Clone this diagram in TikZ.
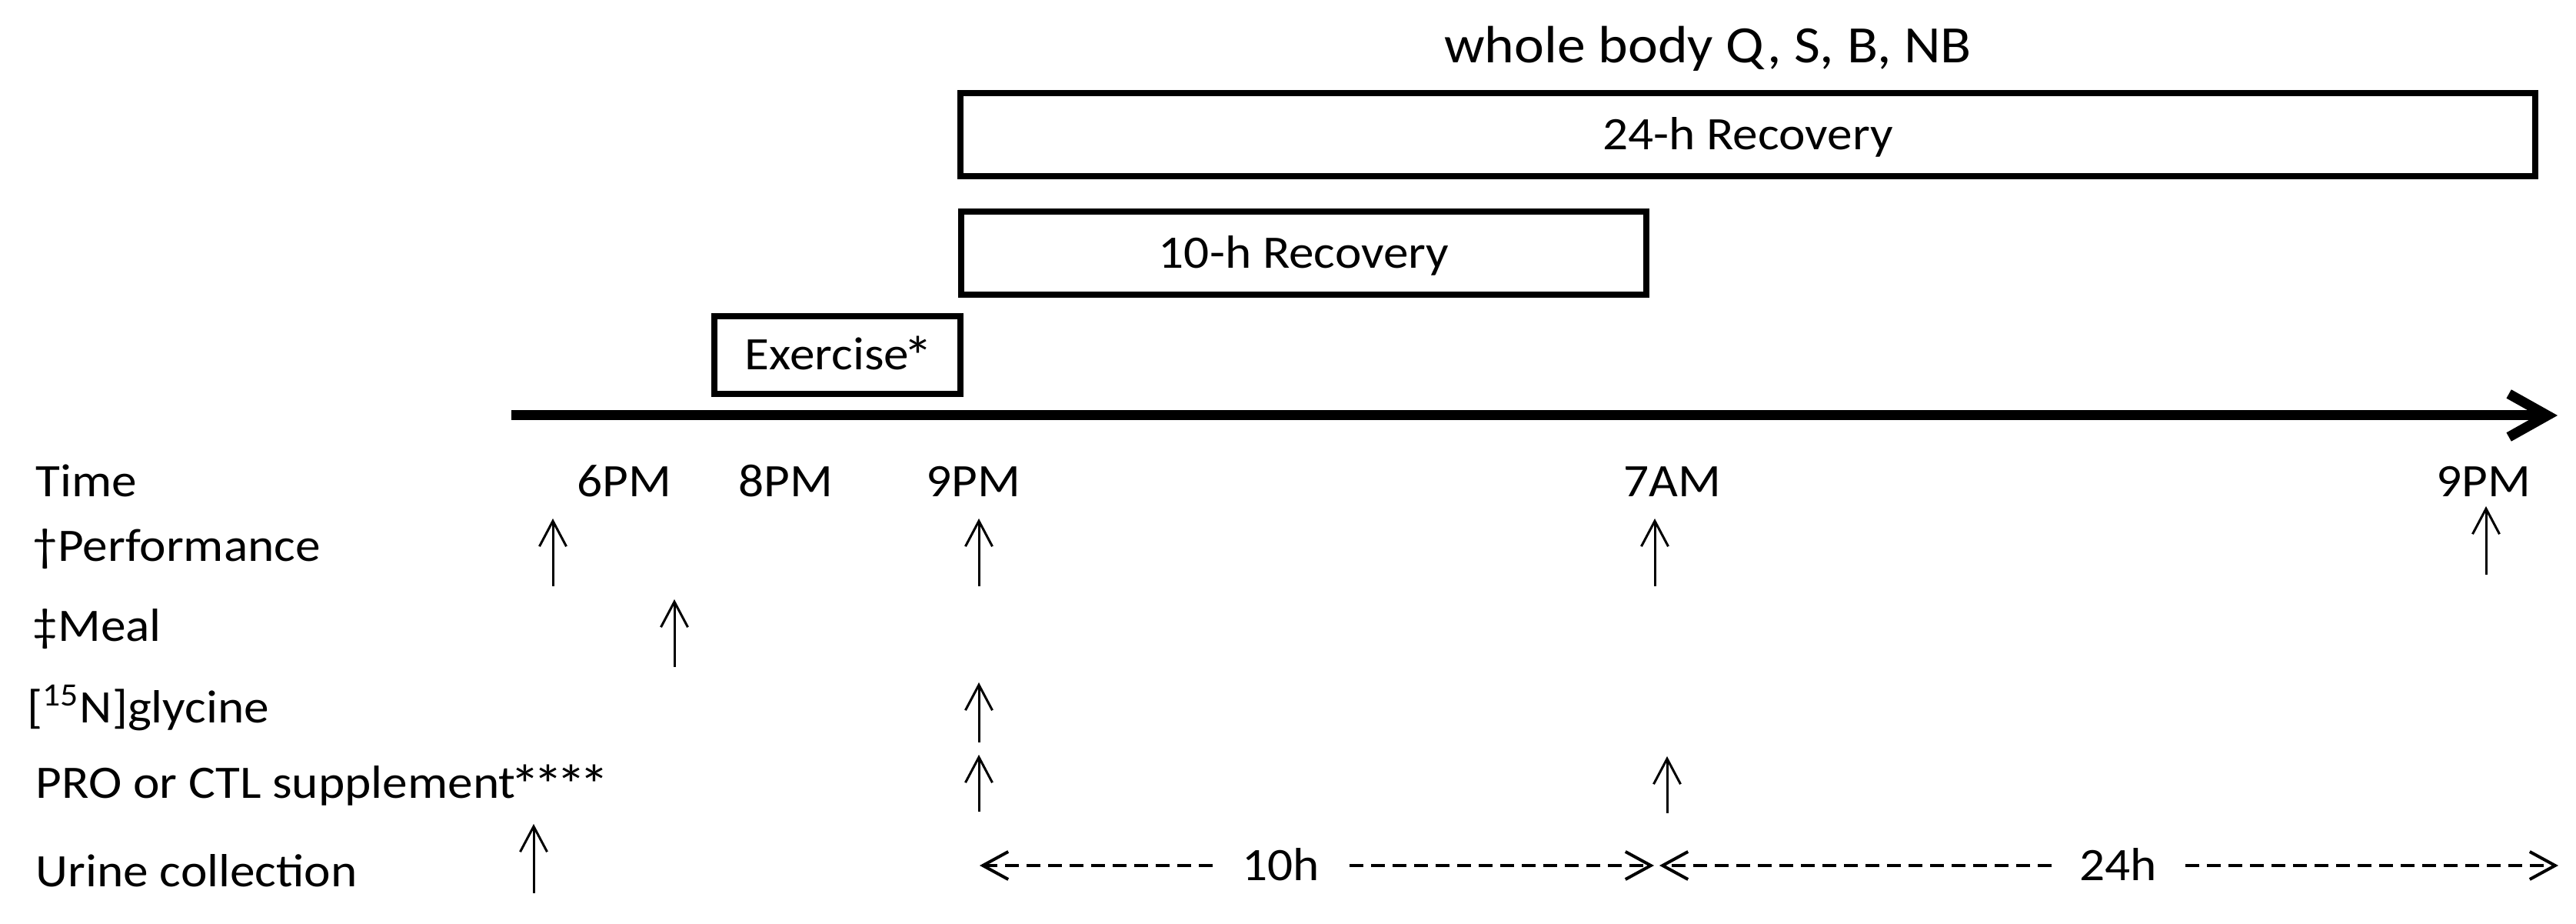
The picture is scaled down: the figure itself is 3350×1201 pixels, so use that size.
\documentclass[tikz,border=0pt]{standalone}
\usepackage{fontspec}
\usepackage{graphicx}
\setmainfont{Carlito}[FakeStretch=1.08]
\usetikzlibrary{arrows.meta}
\newcommand{\bodyfs}{\fontsize{17.2}{20}\selectfont}
\newcommand{\titlefs}{\fontsize{19.4}{22}\selectfont}
\newcommand{\bigstar}{\makebox[0.3cm][c]{\raisebox{-0.12em}{\scalebox{1.2}{*}}}}
\begin{document}
\begin{tikzpicture}[x=0.01cm,y=-0.01cm,
  box/.style={draw, line width=0.08cm, inner sep=0pt, font=\bodyfs, text height=0.39cm, text depth=0pt},
  txt/.style={inner sep=0pt, font=\bodyfs},
  up/.style={line width=0.03cm, -{Straight Barb[length=0.33cm,width=0.35cm]}},
  span/.style={line width=0.04cm, dash pattern=on 0.18cm off 0.1cm, -{Straight Barb[length=0.33cm,width=0.36cm]}},
  axis/.style={line width=0.13cm, -{Straight Barb[length=0.5cm,width=0.56cm]}}
]
\useasboundingbox (0,0) rectangle (3350,1201);

% title
\node[txt, font=\titlefs, anchor=base] (title) at (2221,82) {whole body Q, S, B, NB};

% boxes
\node[box, minimum width=20.46cm, minimum height=1.08cm] (r24) at (2273,175) {24-h Recovery};
\node[box, minimum width=8.91cm, minimum height=1.08cm] (r10) at (1695.5,329) {10-h Recovery};
\node[box, minimum width=3.2cm, minimum height=1.01cm] (ex) at (1089,461.5) {Exercise\hspace{-0.03cm}\bigstar};

% time axis
\coordinate (ax0) at (665,540);
\coordinate (ax1) at (3326,540);
\draw[axis] (ax0) -- (ax1);

% time labels
\node[txt, anchor=base] (t6)  at (812,646)  {6PM};
\node[txt, anchor=base] (t8)  at (1022,646) {8PM};
\node[txt, anchor=base] (t9)  at (1266,646) {9PM};
\node[txt, anchor=base] (t7)  at (2175,646) {7AM};
\node[txt, anchor=base] (t21) at (3230,646) {9PM};

% row labels
\node[txt, anchor=base west] (lTime) at (46,646)  {Time};
\node[txt, anchor=base west] (lPerf) at (42,730)  {†Performance};
\node[txt, anchor=base west] (lMeal) at (42,834)  {‡Meal};
\node[txt, anchor=base west] (lGly)  at (35,940)  {[\textsuperscript{15}N]glycine};
\node[txt, anchor=base west] (lPro)  at (46,1038) {PRO or CTL supplement\hspace{-0.03cm}\bigstar\bigstar\bigstar\bigstar};
\node[txt, anchor=base west] (lUri)  at (46,1153) {Urine collection};

% event arrows
\foreach \n/\x/\a/\b in {pa/719/762/674, pb/1273/762/674, pc/2152/762/674, pd/3233/747/658,
  ma/877/867/779, ga/1273/965/887, sa/1273/1055/981, sb/2168/1057/983, ua/694/1161/1071}{
  \coordinate (\n-s) at (\x,\a);
  \coordinate (\n-e) at (\x,\b);
  \draw[up] (\n-s) -- (\n-e);
}

% urine collection spans
\node[txt, text height=0.39cm, text depth=0pt, inner xsep=0.38cm] (h10) at (1666,1125) {10h};
\node[txt, text height=0.39cm, text depth=0pt, inner xsep=0.36cm] (h24) at (2755,1125) {24h};
\coordinate (d0)  at (1274,1125);
\coordinate (d1)  at (2151,1125);
\coordinate (d1b) at (2158,1125);
\coordinate (d2)  at (3327,1125);
\draw[span] (h10.west) -- (d0);
\draw[span] (h10.east) -- (d1);
\draw[span] (h24.west) -- (d1b);
\draw[span] (h24.east) -- (d2);
\end{tikzpicture}
\end{document}
